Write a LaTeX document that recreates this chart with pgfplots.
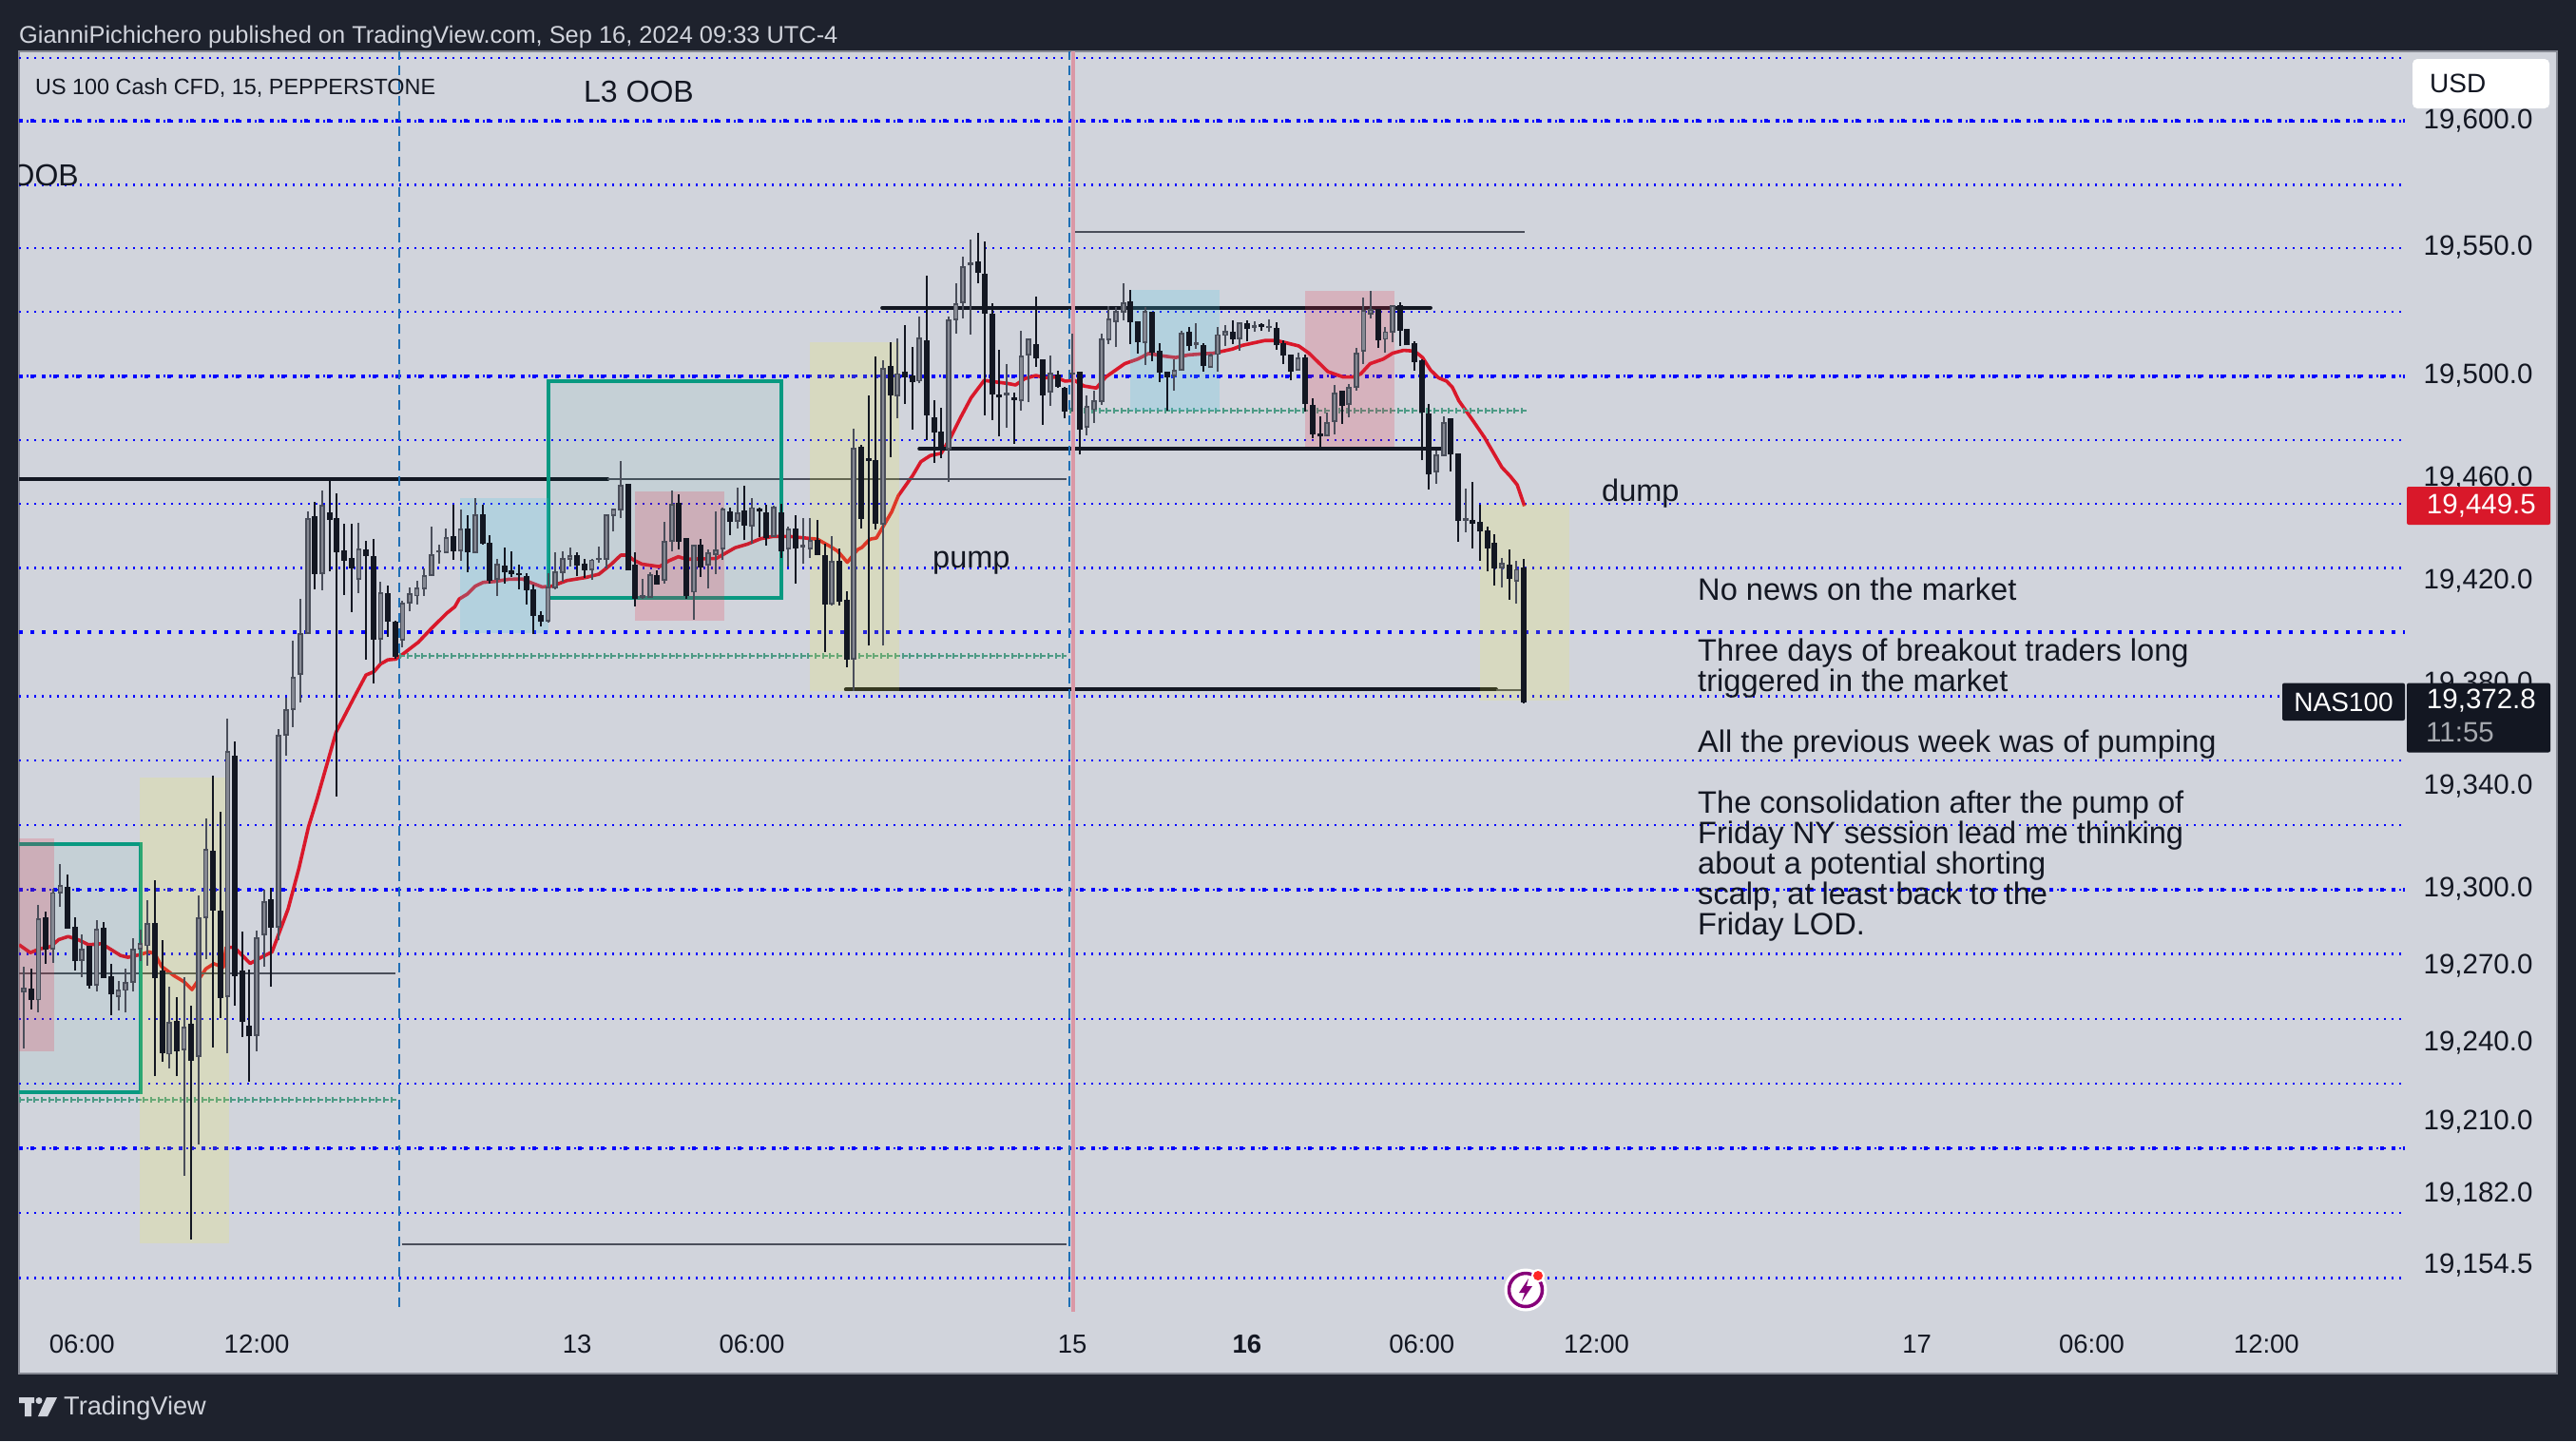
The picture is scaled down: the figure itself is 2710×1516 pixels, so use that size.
\documentclass[border=0pt]{standalone}
\usepackage{pgfplots}
\usepackage{pgfplotstable}
\usepackage{fontspec}
\setmainfont{Liberation Sans}
\pgfplotsset{compat=1.18}
\definecolor{outer}{HTML}{1E222D}
\definecolor{panel}{HTML}{D1D4DC}
\definecolor{ink}{HTML}{131722}
\definecolor{upb}{HTML}{4A4E5A}
\definecolor{upf}{HTML}{868993}
\definecolor{gridb}{HTML}{0000FF}
\definecolor{teal1}{HTML}{089981}
\definecolor{plusg}{HTML}{4E9B86}
\definecolor{vblue}{HTML}{1E6FB5}
\definecolor{zy}{RGB}{255,252,33}
\definecolor{zb}{RGB}{74,202,230}
\definecolor{zp}{RGB}{234,42,65}
\definecolor{ma}{HTML}{D9182A}
\pgfplotstableread{
n o h l c
0 19260.0 19270.0 19237.9 19261.3
2 19257.0 19294.0 19252.2 19288.5
4 19276.7 19300.2 19271.4 19298.6
5 19298.6 19309.7 19293.3 19301.2
8 19272.4 19282.3 19265.8 19276.7
10 19262.6 19287.8 19260.3 19284.4
13 19258.4 19264.2 19252.9 19260.7
14 19260.7 19269.0 19251.9 19263.7
15 19264.0 19281.1 19260.3 19276.5
16 19276.7 19284.2 19272.1 19278.8
17 19278.1 19295.8 19270.3 19286.6
20 19235.9 19262.0 19230.3 19248.1
22 19237.5 19265.8 19188.5 19246.3
24 19234.8 19297.6 19200.7 19288.8
25 19289.2 19327.5 19272.8 19315.3
28 19258.4 19366.4 19236.1 19353.6
32 19243.2 19283.9 19237.0 19281.0
33 19282.5 19299.7 19270.0 19295.1
35 19285.3 19362.4 19280.2 19359.9
36 19360.1 19374.6 19352.0 19369.9
37 19370.2 19396.9 19363.1 19382.5
38 19383.8 19413.1 19372.8 19399.6
39 19399.9 19447.1 19399.8 19444.4
41 19423.0 19455.4 19416.6 19449.6
46 19420.8 19442.8 19415.4 19432.5
49 19397.5 19419.8 19387.8 19415.5
52 19397.1 19412.3 19394.4 19411.5
53 19411.5 19417.5 19408.4 19415.0
54 19414.4 19420.2 19411.0 19417.3
55 19417.1 19425.2 19414.4 19422.2
56 19422.4 19441.3 19422.2 19430.4
57 19431.5 19434.1 19427.0 19431.9
58 19431.3 19440.5 19431.0 19437.0
60 19431.9 19448.0 19428.0 19440.3
62 19431.3 19452.6 19431.0 19445.9
65 19421.0 19428.6 19414.4 19426.5
72 19404.5 19423.0 19403.9 19417.5
73 19417.5 19431.3 19416.8 19423.6
74 19423.4 19431.7 19419.9 19428.8
75 19428.6 19433.1 19425.7 19429.9
78 19424.5 19428.9 19420.5 19428.2
79 19428.6 19433.4 19427.1 19428.9
80 19428.6 19445.9 19424.9 19445.9
81 19445.7 19448.1 19439.4 19448.1
82 19448.0 19466.8 19444.6 19457.3
85 19414.0 19420.8 19413.1 19414.4
86 19413.8 19423.4 19413.5 19422.5
88 19420.5 19443.1 19419.1 19435.6
89 19435.6 19455.4 19431.7 19449.9
92 19415.9 19434.1 19405.1 19434.1
94 19426.4 19432.6 19417.2 19431.0
95 19430.4 19447.1 19422.8 19432.2
96 19432.6 19448.6 19428.3 19448.0
98 19443.4 19456.4 19440.5 19446.7
100 19441.5 19452.6 19434.7 19448.6
103 19437.6 19449.6 19437.2 19448.9
105 19432.6 19441.5 19425.7 19440.3
107 19433.3 19444.6 19426.7 19433.8
108 19432.7 19444.6 19429.2 19435.9
111 19411.3 19437.5 19410.4 19427.7
114 19389.7 19479.4 19377.4 19471.8
118 19442.4 19506.1 19394.9 19503.0
120 19492.4 19514.6 19483.5 19500.8
123 19498.1 19523.0 19497.1 19514.8
127 19471.8 19523.0 19458.6 19521.8
128 19522.0 19536.0 19516.6 19528.2
129 19528.6 19546.5 19522.4 19542.5
130 19543.3 19553.0 19516.2 19543.8
135 19492.7 19504.5 19479.8 19493.2
137 19490.4 19517.5 19486.6 19507.7
138 19508.2 19514.4 19489.9 19514.4
141 19493.8 19507.8 19488.5 19501.1
144 19500.7 19516.5 19486.0 19501.2
146 19480.1 19492.4 19477.0 19488.1
147 19487.0 19494.3 19481.7 19490.3
148 19490.1 19516.5 19488.8 19514.4
149 19514.1 19527.3 19512.5 19522.2
150 19521.2 19526.7 19511.3 19525.1
151 19524.9 19536.0 19521.8 19528.3
154 19513.2 19526.7 19504.3 19525.1
158 19500.2 19506.4 19494.3 19502.0
159 19502.3 19517.5 19502.0 19516.5
161 19512.3 19520.6 19510.7 19512.8
163 19503.5 19508.9 19503.1 19508.2
164 19508.5 19519.0 19501.7 19516.0
165 19515.9 19520.0 19511.7 19517.4
167 19514.7 19520.8 19509.8 19520.6
169 19519.1 19521.4 19517.2 19519.6
171 19519.0 19522.1 19517.1 19519.3
175 19502.3 19509.1 19502.1 19506.8
179 19476.8 19485.8 19476.5 19481.9
180 19482.3 19496.5 19477.4 19493.1
182 19488.9 19496.9 19483.9 19495.6
183 19495.6 19511.0 19494.4 19508.9
184 19509.7 19530.5 19504.7 19525.3
185 19524.3 19533.2 19522.4 19525.8
187 19514.4 19519.0 19509.1 19517.1
188 19517.1 19527.7 19513.2 19527.4
194 19462.6 19470.8 19458.0 19469.3
195 19469.2 19484.2 19469.2 19481.9
198 19443.9 19456.1 19439.1 19444.4
203 19425.4 19429.0 19417.6 19426.8
205 19420.3 19428.0 19411.3 19424.5
}\uptable
\pgfplotstableread{
n o h l c
1 19261.3 19269.0 19253.3 19257.0
3 19289.1 19291.2 19271.1 19276.5
6 19300.9 19305.8 19284.6 19284.9
7 19285.3 19289.1 19268.3 19272.1
9 19277.7 19277.7 19261.3 19262.6
11 19284.9 19287.1 19265.4 19265.4
12 19265.8 19271.1 19250.9 19259.3
18 19286.7 19303.4 19227.2 19265.4
19 19268.2 19280.2 19232.8 19236.1
21 19248.4 19257.9 19227.1 19237.0
23 19247.3 19254.7 19163.4 19233.4
26 19315.0 19344.1 19238.4 19291.9
27 19291.6 19330.2 19249.8 19257.7
29 19351.9 19357.5 19254.7 19266.2
30 19268.2 19283.5 19242.5 19248.4
31 19246.7 19268.6 19225.0 19242.8
34 19295.8 19300.4 19262.0 19285.3
40 19445.2 19450.8 19416.9 19423.0
42 19446.7 19459.1 19424.0 19444.0
43 19444.4 19454.1 19336.2 19431.4
44 19431.9 19442.4 19414.8 19428.2
45 19429.0 19442.4 19408.0 19425.1
47 19432.3 19435.7 19389.4 19429.9
48 19429.7 19436.4 19380.2 19397.3
50 19415.2 19418.3 19398.3 19404.4
51 19404.3 19404.5 19389.7 19390.9
59 19437.5 19449.9 19428.3 19431.8
61 19440.5 19445.6 19423.6 19431.4
63 19446.1 19449.8 19434.4 19434.7
64 19435.0 19437.8 19419.1 19420.5
66 19426.0 19433.1 19419.1 19423.6
67 19424.3 19431.7 19421.8 19422.8
68 19423.0 19426.5 19416.8 19422.6
69 19422.0 19423.0 19411.0 19416.8
70 19416.8 19418.7 19399.6 19406.6
71 19406.8 19408.3 19402.4 19404.3
76 19430.1 19431.3 19422.0 19426.1
77 19426.7 19428.9 19421.5 19424.4
83 19457.8 19457.8 19424.3 19424.3
84 19426.4 19431.3 19410.3 19413.4
87 19422.4 19424.3 19418.7 19418.8
90 19450.4 19453.9 19432.5 19435.5
91 19436.8 19436.8 19413.1 19414.4
93 19434.1 19436.4 19421.8 19425.4
97 19447.1 19448.6 19438.0 19443.3
99 19447.5 19457.2 19436.0 19441.8
101 19448.2 19448.7 19437.2 19447.3
102 19446.7 19449.9 19433.9 19437.2
104 19446.7 19450.2 19429.2 19431.8
106 19440.5 19445.6 19419.1 19432.9
109 19436.0 19443.8 19430.2 19430.4
110 19430.2 19434.5 19392.4 19411.1
112 19427.7 19432.7 19410.4 19412.2
113 19412.7 19416.0 19386.6 19389.7
115 19472.2 19473.0 19440.7 19444.4
116 19467.8 19492.4 19394.9 19467.0
117 19467.1 19507.6 19440.3 19442.4
119 19503.8 19513.2 19468.5 19492.5
121 19501.5 19519.7 19489.1 19499.6
122 19500.1 19511.3 19479.2 19497.7
124 19513.8 19539.1 19474.9 19484.8
125 19483.8 19490.6 19466.2 19478.0
126 19478.3 19487.6 19468.1 19471.8
131 19544.6 19555.7 19536.2 19540.3
132 19539.7 19552.4 19484.8 19524.5
133 19524.3 19528.3 19482.9 19492.8
134 19492.8 19510.1 19476.5 19491.8
136 19491.7 19493.4 19473.6 19490.9
139 19512.3 19530.8 19503.6 19507.0
140 19506.4 19506.4 19481.1 19492.5
142 19500.4 19502.0 19495.4 19495.9
143 19495.3 19495.6 19483.5 19486.2
145 19501.5 19501.5 19469.3 19479.2
152 19529.0 19533.5 19512.5 19521.1
153 19521.2 19521.4 19508.8 19513.3
155 19524.9 19524.9 19505.7 19509.4
156 19509.7 19512.8 19497.7 19501.4
157 19501.5 19501.5 19486.6 19499.6
160 19517.1 19519.0 19509.8 19511.7
162 19511.9 19512.9 19501.7 19503.9
166 19517.1 19521.6 19512.4 19514.4
168 19520.6 19521.6 19513.5 19518.4
170 19520.0 19520.6 19517.5 19519.3
172 19518.6 19520.8 19510.2 19512.1
173 19512.8 19513.8 19504.7 19508.0
174 19508.2 19508.2 19498.4 19501.7
176 19507.2 19508.2 19486.0 19489.1
177 19488.7 19491.3 19475.8 19477.4
178 19477.6 19484.2 19471.8 19476.5
181 19494.3 19494.3 19481.4 19488.5
186 19525.9 19526.1 19511.0 19514.0
189 19527.4 19528.6 19511.7 19517.9
190 19518.2 19518.5 19512.1 19512.1
191 19512.8 19513.4 19502.1 19505.5
192 19505.8 19506.4 19467.2 19485.8
193 19485.4 19489.1 19455.8 19461.7
196 19483.5 19483.5 19462.8 19469.5
197 19469.8 19469.8 19435.4 19443.7
199 19443.9 19458.6 19432.9 19442.4
200 19443.1 19450.0 19428.0 19439.6
201 19439.7 19441.3 19423.9 19432.9
202 19435.0 19438.2 19418.4 19425.1
204 19426.5 19432.3 19412.9 19421.0
206 19425.4 19428.6 19372.4 19372.8
}\downtable
\pgfplotstableread{
n p
-0.65 19278.4
0.9 19275.3
2.1 19276.7
3.7 19277.7
4.8 19280.4
6.1 19281.6
7.6 19280.2
8.9 19278.4
10.7 19278.8
13.3 19274.2
14.3 19273.5
15.9 19274.5
17.2 19275.6
18 19274.9
18.9 19270
20.7 19266.2
22 19264
23.1 19260.9
25 19269
26.1 19271
27.4 19269.6
27.8 19277.4
28.9 19277.4
31.1 19271.1
32.4 19273.2
34.1 19275.6
36.3 19292.3
37.8 19308.3
39.1 19324.3
40.3 19335.4
42.9 19361.3
45.5 19375.5
47 19383.5
48.1 19384.8
49 19387.8
50 19389.4
51.1 19389.7
52 19391.5
54.2 19396.3
55.9 19401.4
58.1 19407.6
59.2 19410.1
59.8 19413.1
60.9 19415
62 19418.1
63.1 19419.6
64.6 19419.9
66.6 19420.8
68.5 19420.9
69.8 19419.3
71.2 19417.8
72.5 19418.1
74.6 19420.3
77.2 19421.5
79 19422.8
80.7 19426.7
82 19430.2
82.9 19430.2
83.8 19428.2
84.9 19426.7
87.3 19425.7
88.6 19428
89.9 19429.6
91 19428.6
95.1 19428.9
96.4 19431
97.7 19433.1
99.4 19434.5
101.2 19436.6
102.9 19437.5
105.1 19437.5
109 19436.4
110.8 19433.5
111.8 19431.7
113.1 19427.4
114.5 19432.3
115.1 19433.2
116.2 19436.4
117.1 19436.9
118.2 19442.2
119.2 19447.1
120.1 19453.3
122.1 19461.3
123.2 19466.6
124.5 19469
126 19469.9
127.3 19476.1
128.6 19483.5
130.1 19491.5
131.9 19498.3
133.4 19497.7
135.1 19497.1
136.2 19496.5
137.5 19499
139 19500.2
140.3 19499.3
141.7 19499.6
143 19498
144.3 19498.3
145.6 19496.1
147.3 19495.3
148.6 19499.6
151.2 19504.8
153 19506.6
154.5 19508.8
156.5 19507.8
158.2 19507.2
159.9 19508.2
161.7 19508.6
163.4 19508.9
166 19510.5
167.3 19511.9
170.4 19513.8
172.1 19513.8
173.4 19512.9
175.1 19511.7
176.5 19508.9
179.1 19501.7
181.2 19499.6
182.5 19499.6
183.6 19500.8
184.9 19504.8
186.7 19506.6
188 19508.9
189.5 19510
191 19509.7
192.1 19507.2
193.2 19502.3
194.3 19499.3
195.4 19498
196.2 19495.6
197.1 19490.3
199.1 19482.3
200.6 19476.1
203 19464.4
204.1 19461.1
205.1 19457.6
206.1 19449.3
}\matable
\pgfplotsset{
  wick/.style={draw=none,mark=none,forget plot,error bars/.cd,y dir=plus,y explicit,error mark=none,
    error bar style={line width=2pt,color=#1}},
  body/.style 2 args={draw=none,mark=none,forget plot,error bars/.cd,y dir=plus,y explicit,error mark=none,
    error bar style={line width=#2,color=#1}},
  thinline/.style={draw=gridb,line width=2.2pt,dash pattern=on 2.2pt off 5.8pt,forget plot},
  heavyline/.style={draw=gridb,line width=4pt,dash pattern=on 4pt off 8pt,forget plot},
  zoney/.style={fill=zy,draw=none,fill opacity=.15,forget plot},
  zoneb/.style={fill=zb,draw=none,fill opacity=.22,forget plot},
  zonep/.style={fill=zp,draw=none,fill opacity=.2,forget plot},
  tbox/.style={draw=teal1,line width=4pt,fill=teal1,fill opacity=.06,draw opacity=1,forget plot},
  blackl/.style={draw=ink,line width=4pt,forget plot,line cap=round},
  grayl/.style={draw=upb,line width=2pt,forget plot},
  vdash/.style={draw=vblue,line width=2.2pt,dash pattern=on 10pt off 6pt,forget plot},
  plush/.style={draw=plusg,line width=2pt,dash pattern=on 6pt off 1.66pt,forget plot},
  plusv/.style={draw=plusg,line width=6pt,dash pattern=on 2pt off 5.66pt,forget plot},
}
\begin{document}
\begin{tikzpicture}[x=1pt,y=1pt]
\fill[outer] (0,0) rectangle (2710,-1516);
\begin{axis}[
  at={(20pt,-1445pt)},anchor=south west,scale only axis,width=2670pt,height=1391pt,
  xmin=-0.653,xmax=347.9,
  ymin=19111.3,ymax=19626.5,
  scaled y ticks=false,scaled x ticks=false,
  axis background/.style={fill=panel},
  axis line style={draw=upf,line width=1.5pt},
  major tick length=0pt,
  xtick={8,32,76,100,144,168,192,216,260,284,308},
  xticklabels={06:00,12:00,13,06:00,15,\textbf{16},06:00,12:00,17,06:00,12:00},
  xticklabel style={anchor=center,yshift=31pt,text=ink,font=\fontsize{27.5}{30}\selectfont},
  ytick={19599.3,19550,19500,19460,19420,19380,19340,19300,19270,19240,19209.4,19181.3,19153.6},
  yticklabels={{19,600.0},{19,550.0},{19,500.0},{19,460.0},{19,420.0},{19,380.0},{19,340.0},{19,300.0},{19,270.0},{19,240.0},{19,210.0},{19,182.0},{19,154.5}},
  yticklabel pos=right,
  yticklabel style={anchor=east,xshift=-22pt,text=ink,font=\fontsize{29.5}{30}\selectfont},
  clip=true,
]
% grid levels
\pgfplotsinvokeforeach{19624.0,19574.5,19549.7,19524.9,19475.1,19450.2,19425.2,19375.2,19350.1,19325,19274.8,19249.6,19224.4,19173.8,19148.5,19500,19299.9,19199.1,19599.3}{
  \addplot[thinline] coordinates {(-0.65,#1)(327,#1)};}
\pgfplotsinvokeforeach{19599.3,19500,19400.2,19299.9,19199.1}{
  \addplot[heavyline] coordinates {(-0.65,#1)(327,#1)};}
% moving average
\addplot[draw=ma,line width=3.6pt,forget plot,line join=round] table[x=n,y=p] {\matable};
% levels
\addplot[blackl] coordinates {(-2,19459.8)(80.2,19459.8)};
\addplot[grayl] coordinates {(80.2,19459.8)(143.2,19459.8)};
\addplot[blackl] coordinates {(117.9,19526.6)(193.2,19526.6)};
\addplot[blackl] coordinates {(123,19471.6)(194.8,19471.6)};
\addplot[blackl] coordinates {(112.9,19377.8)(202.2,19377.8)};
\addplot[grayl] coordinates {(202.2,19377.6)(206,19377.6)};
\addplot[grayl] coordinates {(143.95,19556.3)(206.1,19556.3)};
\addplot[grayl] coordinates {(51.9,19161.8)(143.2,19161.8)};
\addplot[grayl] coordinates {(-2,19267.1)(51.1,19267.1)};
\addplot[plush] coordinates {(-0.65,19218)(51.3,19218)};
\addplot[plusv] coordinates {(-0.65,19218)(51.3,19218)};
\addplot[plush] coordinates {(51.6,19390.9)(143.2,19390.9)};
\addplot[plusv] coordinates {(51.6,19390.9)(143.2,19390.9)};
\addplot[plush] coordinates {(143.6,19486.5)(206.4,19486.5)};
\addplot[plusv] coordinates {(143.6,19486.5)(206.4,19486.5)};
% vertical markers
\addplot[draw=zp!35!panel,line width=3.6pt,forget plot] coordinates {(144.1,19627)(144.1,19135.5)};
\addplot[vdash] coordinates {(51.57,19627)(51.57,19135.5)};
\addplot[vdash] coordinates {(143.6,19627)(143.6,19135.5)};
% boxes
\addplot[tbox] coordinates {(-5,19317.7)(16,19317.7)(16,19221)(-5,19221)} -- cycle;
\addplot[tbox] coordinates {(72.06,19498)(104.05,19498)(104.05,19413.7)(72.06,19413.7)} -- cycle;
% zones
\addplot[zonep] coordinates {(-2,19319.8)(4.14,19319.8)(4.14,19236.8)(-2,19236.8)} -- cycle;
\addplot[zoney] coordinates {(15.93,19343.5)(28.2,19343.5)(28.2,19162.1)(15.93,19162.1)} -- cycle;
\addplot[zoneb] coordinates {(59.9,19452.5)(72.1,19452.5)(72.1,19399.8)(59.9,19399.8)} -- cycle;
\addplot[zonep] coordinates {(83.94,19455.2)(96.2,19455.2)(96.2,19404.6)(83.94,19404.6)} -- cycle;
\addplot[zoney] coordinates {(107.96,19513.2)(120.2,19513.2)(120.2,19377.2)(107.96,19377.2)} -- cycle;
\addplot[zoneb] coordinates {(151.96,19533.7)(164.2,19533.7)(164.2,19486.5)(151.96,19486.5)} -- cycle;
\addplot[zonep] coordinates {(176,19533.3)(188.3,19533.3)(188.3,19472.3)(176,19472.3)} -- cycle;
\addplot[zoney] coordinates {(200,19449.8)(212.3,19449.8)(212.3,19373.4)(200,19373.4)} -- cycle;
% candles: wicks
\addplot[wick=upb] table[x=n,y=l,y error expr={\thisrow{h}-\thisrow{l}}] {\uptable};
\addplot[wick=ink] table[x=n,y=l,y error expr={\thisrow{h}-\thisrow{l}}] {\downtable};
% candles: bodies
\addplot[body={upb}{5.6pt}] table[x=n,y expr={\thisrow{o}-0.3},y error expr={\thisrow{c}-\thisrow{o}+0.6}] {\uptable};
\addplot[body={upf}{2.4pt}] table[x=n,y expr={\thisrow{o}+0.4},y error expr={max(\thisrow{c}-\thisrow{o}-0.8,0)}] {\uptable};
\addplot[body={ink}{6pt}] table[x=n,y expr={\thisrow{c}-0.15},y error expr={\thisrow{o}-\thisrow{c}+0.3}] {\downtable};
\end{axis}
% header and footer
\node[anchor=base west,text=panel,font=\fontsize{25.4}{30}\selectfont,inner sep=0pt] at (20,-45) {GianniPichichero published on TradingView.com, Sep 16, 2024 09:33 UTC-4};
\node[anchor=west,text=panel,font=\fontsize{27.2}{30}\selectfont,inner sep=0pt] at (67,-1481.5) {TradingView};
\fill[panel] (20,-1470) rectangle (36,-1476) (26,-1476) rectangle (33,-1490);
\fill[panel] (41,-1473.5) circle (3.5);
\fill[panel] (49,-1470) -- (60,-1470) -- (50,-1490) -- (40,-1490) -- cycle;
% annotations
\node[anchor=base west,text=ink,font=\fontsize{23.4}{30}\selectfont,inner sep=0pt] at (37,-99) {US 100 Cash CFD, 15, PEPPERSTONE};
\node[anchor=base west,text=ink,font=\fontsize{32}{36}\selectfont,inner sep=0pt] at (614,-107) {L3 OOB};
\begin{scope}
\clip (20,-54) rectangle (200,-300);
\node[anchor=base east,text=ink,font=\fontsize{32}{36}\selectfont,inner sep=0pt] at (83,-195) {OOB};
\end{scope}
\node[anchor=base west,text=ink,font=\fontsize{32.5}{36}\selectfont,inner sep=0pt] at (981,-597) {pump};
\node[anchor=base west,text=ink,font=\fontsize{32.5}{36}\selectfont,inner sep=0pt] at (1685,-527) {dump};
\foreach \yy/\lb in {631.7/No news on the market,695.7/Three days of breakout traders long,727.3/triggered in the market,791.7/All the previous week was of pumping,855.7/The consolidation after the pump of,887.3/Friday NY session lead me thinking,919.3/about a potential shorting,951/{scalp, at least back to the},983.3/Friday LOD.}
  \node[anchor=base west,text=ink,font=\fontsize{32.6}{36}\selectfont,inner sep=0pt] at (1786,-\yy) {\lb};
% price tags
\fill[white,rounded corners=5pt] (2538,-62) rectangle (2682,-114);
\node[anchor=west,text=ink,font=\fontsize{28}{30}\selectfont,inner sep=0pt] at (2556,-87.5) {USD};
\fill[ma,rounded corners=2pt] (2532,-512) rectangle (2683,-552);
\node[anchor=east,text=white,font=\fontsize{29.5}{30}\selectfont,inner sep=0pt] at (2668,-532) {19,449.5};
\fill[ink,rounded corners=2pt] (2532,-718.6) rectangle (2683,-791.5);
\node[anchor=east,text=white,font=\fontsize{29.5}{30}\selectfont,inner sep=0pt] at (2668,-737.5) {19,372.8};
\node[anchor=west,text=panel!80!black,font=\fontsize{29.5}{30}\selectfont,inner sep=0pt] at (2552,-770.6) {11:55};
\fill[ink,rounded corners=2pt] (2401,-718.6) rectangle (2530,-758);
\node[text=white,font=\fontsize{28}{30}\selectfont,inner sep=0pt] at (2465.5,-738.5) {NAS100};
% event icon
\fill[white] (1605,-1357) circle (22.5);
\draw[purple!70!blue,line width=3.5pt] (1605,-1357) circle (17.5);
\fill[purple!70!blue] (1608,-1345) -- (1598,-1360) -- (1604,-1360) -- (1601,-1369) -- (1612,-1353) -- (1606,-1353) -- cycle;
\fill[white] (1618,-1342) circle (7);
\fill[red!80!pink] (1618,-1342) circle (5);
\end{tikzpicture}
\end{document}
